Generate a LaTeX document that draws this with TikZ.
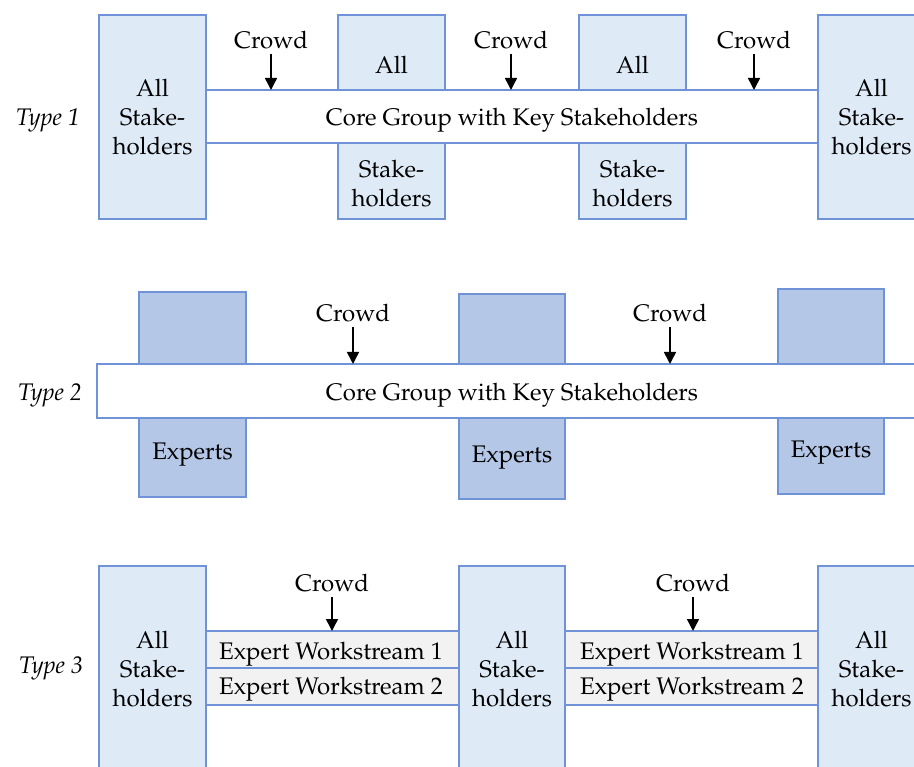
\documentclass[tikz,border=0pt]{standalone}
\usepackage[T1]{fontenc}
\usepackage{mathpazo}
\usetikzlibrary{arrows.meta}
\definecolor{edgeblue}{HTML}{6F93D6}
\definecolor{lightfill}{HTML}{DEEAF6}
\definecolor{darkfill}{HTML}{B4C7E7}
\definecolor{grayfill}{HTML}{F2F2F2}
\begin{document}
\begin{tikzpicture}[x=1pt,y=-1pt,
  box/.style={draw=edgeblue, line width=1.2pt, anchor=north west, inner sep=0pt, outer sep=0pt},
  shbox/.style={box, fill=lightfill},
  exbox/.style={box, fill=darkfill},
  barbox/.style={box, fill=white},
  wsbox/.style={box, fill=grayfill},
  lbl/.style={font=\fontsize{24}{29}\selectfont, align=center, inner sep=0pt},
  typelbl/.style={lbl, font=\fontsize{24}{29}\selectfont\itshape},
  crowdarrow/.style={-{Triangle[width=12pt,length=12pt]}, line width=1.5pt}]
\useasboundingbox (0,0) rectangle (914,767);
\clip (0,0) rectangle (914,767);

% ---------------- Type 1 ----------------
\node[shbox, minimum width=107pt, minimum height=204pt] (M11) at (338,15) {};
\node[shbox, minimum width=107pt, minimum height=204pt] (M12) at (579,15) {};
\node[barbox, minimum width=612pt, minimum height=53pt] (B1) at (206,90) {};
\node[shbox, minimum width=107pt, minimum height=204pt] (L1) at (99,15) {};
\node[shbox, minimum width=107pt, minimum height=204pt] (R1) at (818,15) {};
\node[lbl] (tL1) at (152.5,117) {All\\Stake-\\holders};
\node[lbl] (tR1) at (871.5,117) {All\\Stake-\\holders};
\node[lbl] (tM11a) at (391.5,65) {All};
\node[lbl] (tM11b) at (391.5,184) {Stake-\\holders};
\node[lbl] (tM12a) at (632.5,65) {All};
\node[lbl] (tM12b) at (632.5,184) {Stake-\\holders};
\node[lbl] (tB1) at (512,120) {Core Group with Key Stakeholders};
\node[typelbl] (T1) at (48,120) {Type 1};
\node[lbl] (C11) at (271,40) {Crowd};
\node[lbl] (C12) at (511,40) {Crowd};
\node[lbl] (C13) at (754,40) {Crowd};
\draw[crowdarrow] ([yshift=-5pt]C11.south) -- (C11.south |- B1.north);
\draw[crowdarrow] ([yshift=-5pt]C12.south) -- (C12.south |- B1.north);
\draw[crowdarrow] ([yshift=-5pt]C13.south) -- (C13.south |- B1.north);

% ---------------- Type 2 ----------------
\node[exbox, minimum width=107pt, minimum height=205pt] (E1) at (139,292) {};
\node[exbox, minimum width=106pt, minimum height=205pt] (E2) at (459,294) {};
\node[exbox, minimum width=106pt, minimum height=205pt] (E3) at (778,289) {};
\node[barbox, minimum width=900pt, minimum height=54pt] (B2) at (97,364) {};
\node[lbl] (tE1) at (192.5,455) {Experts};
\node[lbl] (tE2) at (512,458) {Experts};
\node[lbl] (tE3) at (831,453) {Experts};
\node[lbl] (tB2) at (512,395) {Core Group with Key Stakeholders};
\node[typelbl] (T2) at (50,395) {Type 2};
\node[lbl] (C21) at (353,313) {Crowd};
\node[lbl] (C22) at (670,313) {Crowd};
\draw[crowdarrow] ([yshift=-5pt]C21.south) -- (C21.south |- B2.north);
\draw[crowdarrow] ([yshift=-5pt]C22.south) -- (C22.south |- B2.north);

% ---------------- Type 3 ----------------
\node[shbox, minimum width=107pt, minimum height=250pt] (L3) at (99,566) {};
\node[shbox, minimum width=106pt, minimum height=250pt] (M3) at (459,566) {};
\node[shbox, minimum width=107pt, minimum height=250pt] (R3) at (818,566) {};
\node[wsbox, minimum width=253pt, minimum height=37pt] (W11) at (206,631) {};
\node[wsbox, minimum width=253pt, minimum height=37pt] (W12) at (206,668) {};
\node[wsbox, minimum width=253pt, minimum height=37pt] (W21) at (565,631) {};
\node[wsbox, minimum width=253pt, minimum height=37pt] (W22) at (565,668) {};
\node[lbl] (tW11) at (331,654) {Expert Workstream 1};
\node[lbl] (tW12) at (331,689) {Expert Workstream 2};
\node[lbl] (tW21) at (692,654) {Expert Workstream 1};
\node[lbl] (tW22) at (692,689) {Expert Workstream 2};
\node[lbl] (tL3) at (152.5,669) {All\\Stake-\\holders};
\node[lbl] (tM3) at (512,669) {All\\Stake-\\holders};
\node[lbl] (tR3) at (871.5,669) {All\\Stake-\\holders};
\node[typelbl] (T3) at (51,668) {Type 3};
\node[lbl] (C31) at (332,583) {Crowd};
\node[lbl] (C32) at (693,583) {Crowd};
\draw[crowdarrow] ([yshift=-5pt]C31.south) -- (C31.south |- W11.north);
\draw[crowdarrow] ([yshift=-5pt]C32.south) -- (C32.south |- W21.north);
\end{tikzpicture}
\end{document}
